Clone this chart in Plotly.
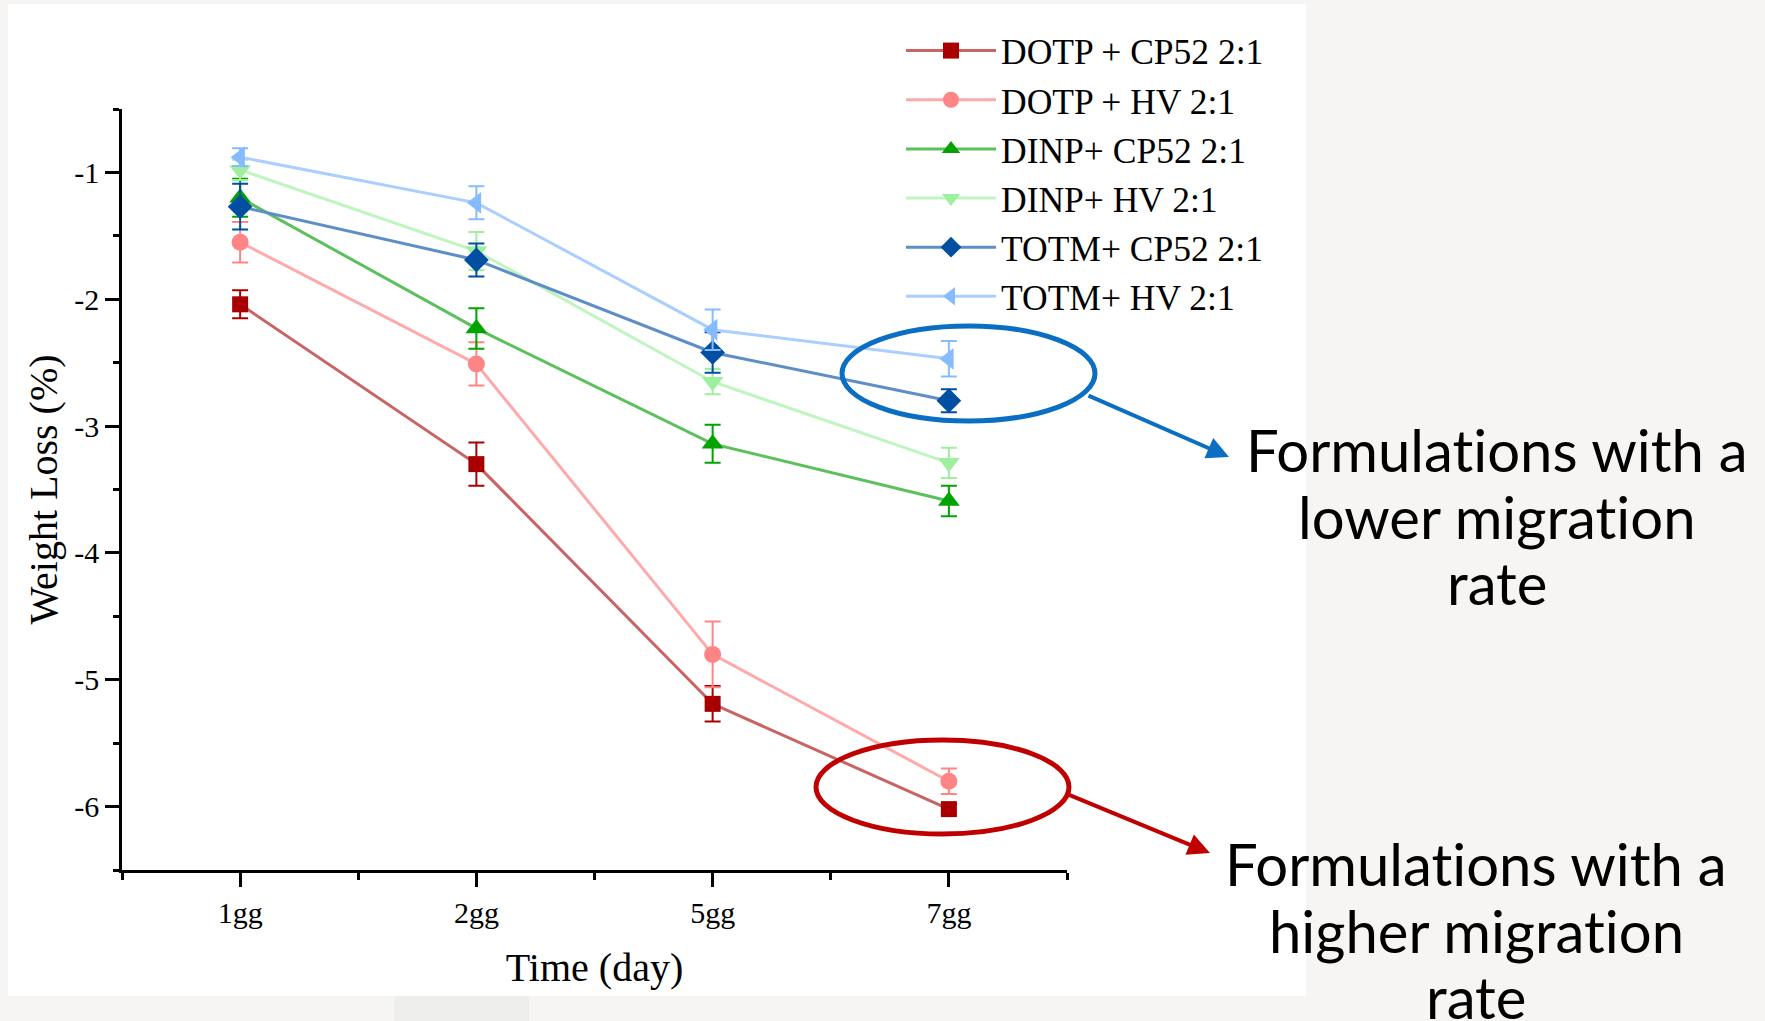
import plotly.graph_objects as go

# ---- data -------------------------------------------------------------
days = ["1gg", "2gg", "5gg", "7gg"]
day_pos = [1, 2, 3, 4]

series_names = [
    "DOTP + CP52 2:1",
    "DOTP + HV 2:1",
    "DINP+ CP52 2:1",
    "DINP+ HV 2:1",
    "TOTM+ CP52 2:1",
    "TOTM+ HV 2:1",
]

dotp_cp52 = [-2.04, -3.30, -5.19, -6.02]
dotp_hv = [-1.55, -2.51, -4.80, -5.80]
dinp_cp52 = [-1.20, -2.23, -3.14, -3.59]
dinp_hv = [-0.98, -1.62, -2.65, -3.29]
totm_cp52 = [-1.27, -1.69, -2.42, -2.80]
totm_hv = [-0.88, -1.24, -2.24, -2.47]

dotp_cp52_err = [0.11, 0.17, 0.14, 0.04]
dotp_hv_err = [0.16, 0.17, 0.26, 0.10]
dinp_cp52_err = [0.15, 0.16, 0.15, 0.12]
dinp_hv_err = [0.08, 0.15, 0.10, 0.12]
totm_cp52_err = [0.18, 0.13, 0.16, 0.09]
totm_hv_err = [0.07, 0.13, 0.16, 0.14]

values = [dotp_cp52, dotp_hv, dinp_cp52, dinp_hv, totm_cp52, totm_hv]
errors = [dotp_cp52_err, dotp_hv_err, dinp_cp52_err, dinp_hv_err,
          totm_cp52_err, totm_hv_err]

# ZWNJ keeps the "ti" pair from turning into a ligature
ZWNJ = "\u200c"
low_note = ["Formulat" + ZWNJ + "ions with a", "lower migrat" + ZWNJ + "ion", "rate"]
high_note = ["Formulat" + ZWNJ + "ions with a", "higher migrat" + ZWNJ + "ion", "rate"]

# ---- styling ------------------------------------------------------------
marker_colors = ["#a80000", "#ff8585", "#00a300", "#9ef09e", "#004fa3", "#86bbff"]
line_colors = ["#c86464", "#ffaaaa", "#5cc05c", "#bff5bf", "#5d8ec6", "#aacfff"]
symbols = ["square", "circle", "triangle-up", "triangle-down", "diamond", "triangle-left"]
sizes = [16, 17, 19, 19, 19, 19]

SERIF = "Times New Roman, Liberation Serif, serif"
SANS = "Lato, Noto Sans, sans-serif"

W, H = 1765, 1021
L, R, T, B = 122, 1067, 109, 870


def px_x(p):
    return (p - L) / (R - L)


def px_y(p):
    return (B - p) / (B - T)


fig = go.Figure()

for name, vals, errs, mc, lc, sym, sz in zip(series_names, values, errors,
                                              marker_colors, line_colors,
                                              symbols, sizes):
    fig.add_trace(go.Scatter(
        x=day_pos, y=vals, name=name, mode="lines+markers",
        line=dict(color=lc, width=3),
        marker=dict(color=mc, symbol=sym, size=sz, line=dict(width=0)),
        error_y=dict(type="data", array=errs, visible=True,
                     color=mc, thickness=2, width=8),
    ))

# white panel behind the chart and small background patch
shapes = [
    dict(type="rect", xref="paper", yref="paper", layer="below",
         x0=px_x(8), x1=px_x(1306), y0=px_y(996), y1=px_y(4),
         fillcolor="white", line=dict(width=0)),
    dict(type="rect", xref="paper", yref="paper", layer="below",
         x0=px_x(394), x1=px_x(529), y0=px_y(1021), y1=px_y(996),
         fillcolor="#eeeeec", line=dict(width=0)),
    # highlight ellipses
    dict(type="circle", xref="paper", yref="paper",
         x0=px_x(842), x1=px_x(1095), y0=px_y(421), y1=px_y(326),
         line=dict(color="#0a6fc2", width=5)),
    dict(type="circle", xref="paper", yref="paper",
         x0=px_x(816), x1=px_x(1069), y0=px_y(834), y1=px_y(740),
         line=dict(color="#c00000", width=5)),
]

annotations = [
    dict(xref="paper", yref="paper", x=px_x(1229), y=px_y(457),
         ax=1087 - 1229, ay=395 - 457, text="", showarrow=True,
         arrowhead=2, arrowsize=1.1, arrowwidth=4, arrowcolor="#0a6fc2",
         standoff=0),
    dict(xref="paper", yref="paper", x=px_x(1210), y=px_y(853),
         ax=1067 - 1210, ay=794 - 853, text="", showarrow=True,
         arrowhead=2, arrowsize=1.1, arrowwidth=4, arrowcolor="#c00000",
         standoff=0),
]

# callout texts, one annotation per line for tight line spacing
for cx, rows, lines in [(1497, [449, 516, 582], low_note),
                        (1476, [863, 930, 997], high_note)]:
    for row_y, line_text in zip(rows, lines):
        annotations.append(dict(
            xref="paper", yref="paper", x=px_x(cx), y=px_y(row_y),
            xanchor="center", yanchor="middle", showarrow=False,
            text=line_text, font=dict(family=SANS, size=58, color="black")))

fig.update_layout(
    width=W, height=H,
    margin=dict(l=L, r=W - R, t=T, b=H - B, autoexpand=False),
    paper_bgcolor="#f6f5f3",
    plot_bgcolor="rgba(0,0,0,0)",
    font=dict(family=SERIF, color="black"),
    showlegend=True,
    legend=dict(
        x=px_x(901), y=px_y(21), xanchor="left", yanchor="top",
        bgcolor="rgba(0,0,0,0)", font=dict(family=SERIF, size=35.5, color="black"),
        itemwidth=90, tracegroupgap=0,
    ),
    shapes=shapes,
    annotations=annotations,
)

fig.update_xaxes(
    range=[0.5, 4.5], tickmode="array", tickvals=day_pos, ticktext=days,
    showline=True, linecolor="black", linewidth=2.5, mirror=False,
    ticks="outside", ticklen=14, tickwidth=2.5, tickcolor="black",
    minor=dict(tickmode="array", tickvals=[0.5, 1.5, 2.5, 3.5, 4.5],
               ticks="outside", ticklen=7, tickwidth=2.5, tickcolor="black"),
    showgrid=False, zeroline=False,
    tickfont=dict(family=SERIF, size=30, color="black"),
    title=dict(text="Time (day)", font=dict(family=SERIF, size=40, color="black"),
               standoff=26),
)

fig.update_yaxes(
    range=[-6.5, -0.5], tickmode="array", tickvals=[-1, -2, -3, -4, -5, -6],
    ticktext=["-1", "-2", "-3", "-4", "-5", "-6"],
    showline=True, linecolor="black", linewidth=2.5, mirror=False,
    ticks="outside", ticklen=14, tickwidth=2.5, tickcolor="black",
    minor=dict(tickmode="array",
               tickvals=[-0.5, -1.5, -2.5, -3.5, -4.5, -5.5, -6.5],
               ticks="outside", ticklen=6, tickwidth=2.5, tickcolor="black"),
    showgrid=False, zeroline=False,
    tickfont=dict(family=SERIF, size=30, color="black"),
    title=dict(text="Weight Loss (%)", font=dict(family=SERIF, size=40, color="black"),
               standoff=5),
)

fig.write_html("out.html")
